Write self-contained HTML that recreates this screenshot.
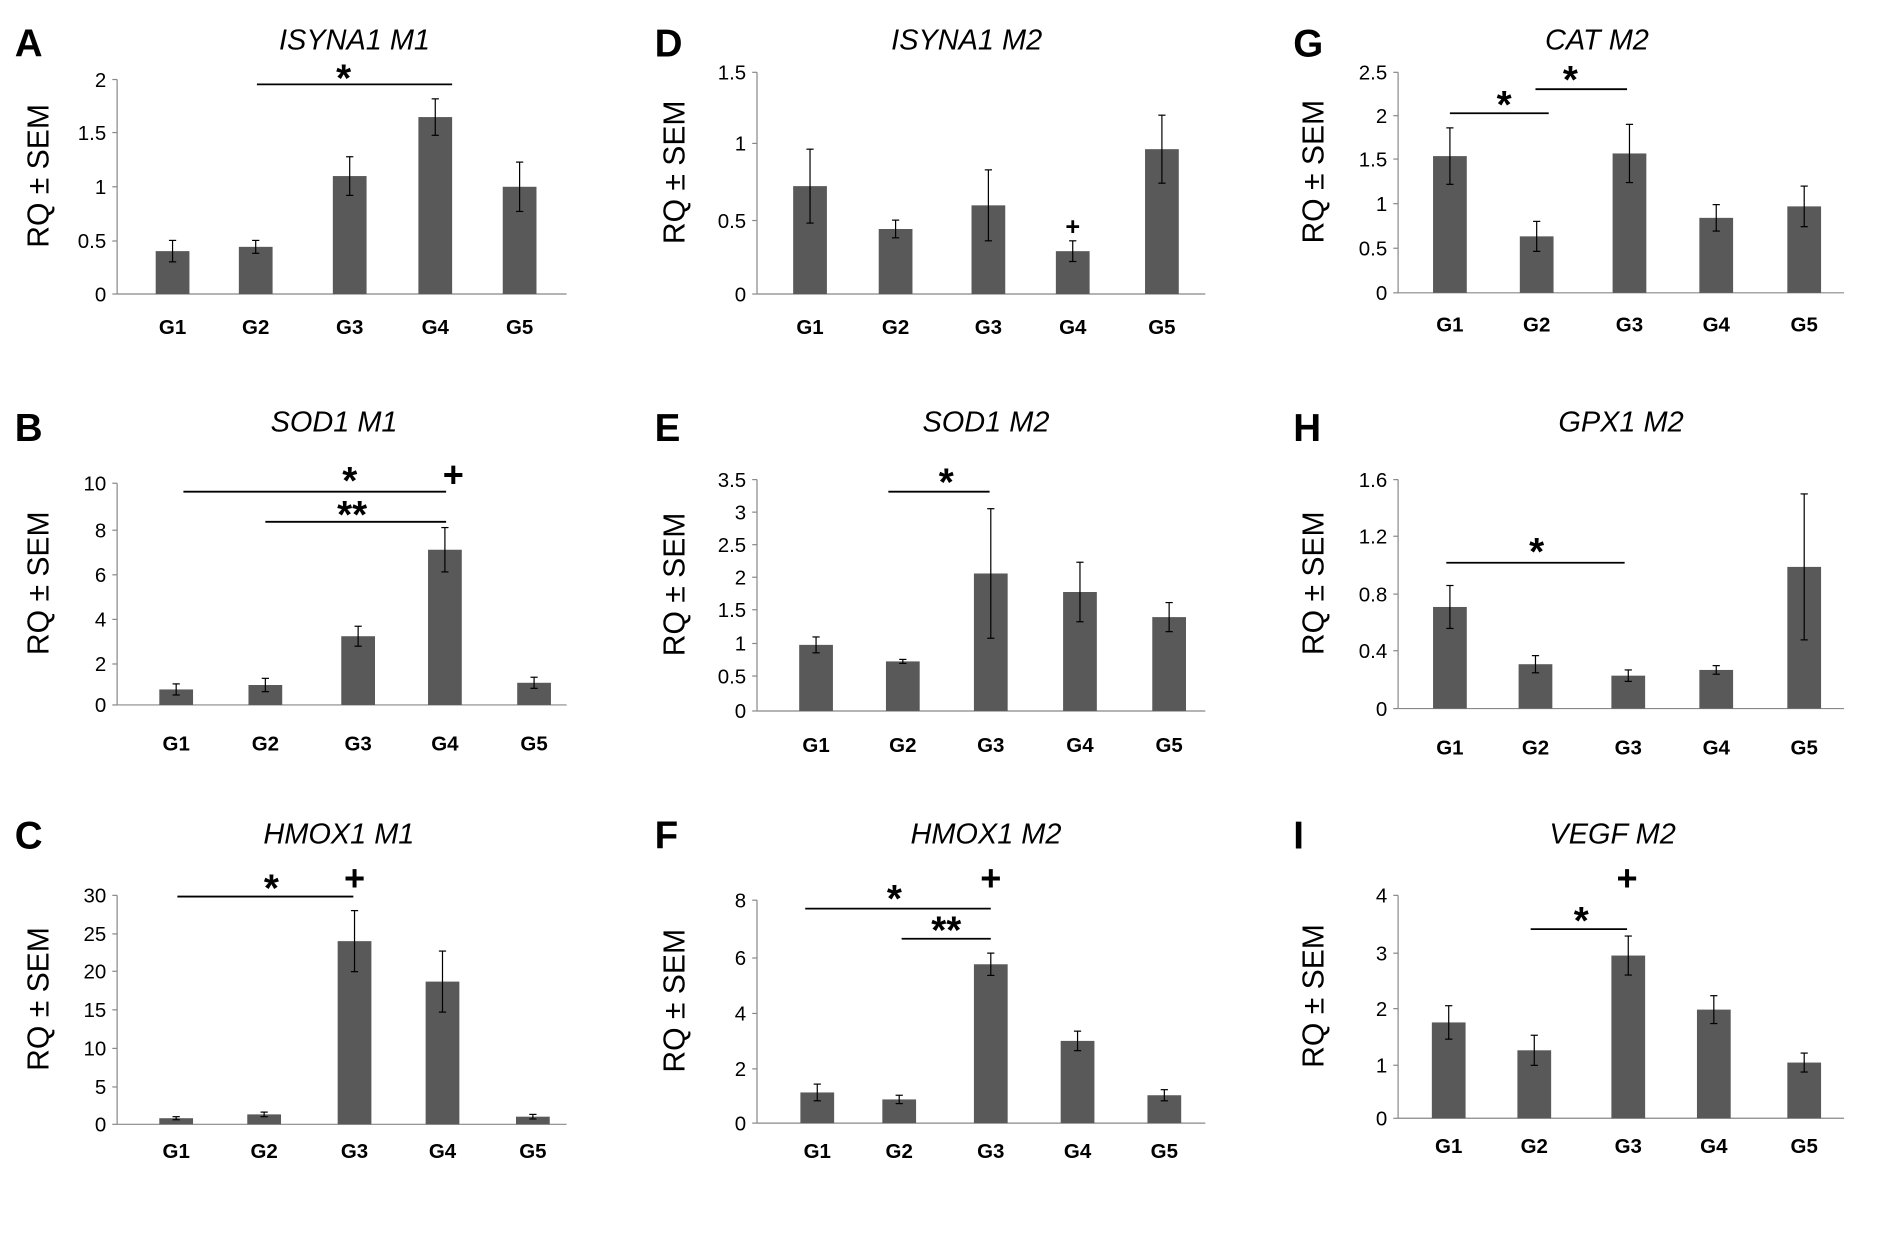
<!DOCTYPE html>
<html><head><meta charset="utf-8"><style>
html,body{margin:0;padding:0;background:#fff;}
svg{display:block;}
text{font-family:"Liberation Sans",Arial,sans-serif;fill:#000;}
</style></head><body>
<svg id="s" width="1890" height="1240" viewBox="0 0 1568 1029" xmlns="http://www.w3.org/2000/svg">
<rect x="0" y="0" width="1568" height="1029" fill="#fff"/>
</svg>
<script>
const S=document.getElementById('s');const NS='http://www.w3.org/2000/svg';
function el(t,a,txt){const e=document.createElementNS(NS,t);for(const k in a)e.setAttribute(k,a[k]);if(txt!==undefined)e.textContent=txt;S.appendChild(e);return e;}
const P=[
{ax:97,x1:470,zero:244,ticks:[[0,244],[0.5,200],[1,155],[1.5,110],[2,66]],lab:['0','0.5','1','1.5','2'],bx:[143,212,290,361,431],v:[.4,.44,1.1,1.65,1.0],e:[.1,.06,.18,.17,.23],ly:271,t:'ISYNA1 M1',tx:294,ty:32,L:'A',Lx:12,Ly:35,yl:40,
 sig:[[213,375,70,'*',285,62]],plus:[]},
{ax:97,x1:470,zero:585,ticks:[[0,585],[2,551],[4,514],[6,477],[8,440],[10,401]],lab:['0','2','4','6','8','10'],bx:[146,220,297,369,443],v:[.7,.9,3.1,7.0,1.0],e:[.25,.3,.45,1.0,.25],ly:617,t:'SOD1 M1',tx:277,ty:349,L:'B',Lx:12,Ly:354,yl:40,
 sig:[[152,370,408,'*',290,396],[220,370,433,'**',292,424]],plus:[[376,394]]},
{ax:97,x1:470,zero:933,ticks:[[0,933],[5,902],[10,870],[15,838],[20,806],[25,775],[30,743]],lab:['0','5','10','15','20','25','30'],bx:[146,219,294,367,442],v:[.8,1.3,24,18.7,1.0],e:[.2,.3,4,4,.3],ly:955,t:'HMOX1 M1',tx:281,ty:691,L:'C',Lx:12,Ly:692,yl:40,
 sig:[[147,293,744,'*',225,734]],plus:[[294,729]]},
{ax:628,x1:1000,zero:244,ticks:[[0,244],[.5,183],[1,119],[1.5,60]],lab:['0','0.5','1','1.5'],bx:[672,743,820,890,964],v:[.73,.44,.6,.29,.98],e:[.25,.06,.24,.07,.23],ly:271,t:'ISYNA1 M2',tx:802,ty:32,L:'D',Lx:543,Ly:35,yl:568,
 sig:[],plus:[[890,188,0.7]]},
{ax:628,x1:1000,zero:590,ticks:[[0,590],[.5,561],[1,534],[1.5,506],[2,479],[2.5,452],[3,425],[3.5,398]],lab:['0','0.5','1','1.5','2','2.5','3','3.5'],bx:[677,749,822,896,970],v:[1.0,.75,2.08,1.8,1.42],e:[.12,.03,.98,.45,.22],ly:618,t:'SOD1 M2',tx:818,ty:349,L:'E',Lx:543,Ly:354,yl:568,
 sig:[[737,821,408,'*',785,397]],plus:[]},
{ax:628,x1:1000,zero:932,ticks:[[0,932],[2,887],[4,841],[6,795],[8,747]],lab:['0','2','4','6','8'],bx:[678,746,822,894,966],v:[1.1,.85,5.7,2.95,1.0],e:[.3,.15,.4,.35,.2],ly:955,t:'HMOX1 M2',tx:818,ty:691,L:'F',Lx:543,Ly:692,yl:568,
 sig:[[668,822,754,'*',742,743],[748,822,779,'**',785,769]],plus:[[822,729]]},
{ax:1160,x1:1530,zero:243,ticks:[[0,243],[.5,206],[1,169],[1.5,132],[2,96],[2.5,60]],lab:['0','0.5','1','1.5','2','2.5'],bx:[1203,1275,1352,1424,1497],v:[1.55,.64,1.58,.85,.98],e:[.32,.17,.33,.15,.23],ly:269,t:'CAT M2',tx:1325,ty:32,L:'G',Lx:1073,Ly:35,yl:1098,
 sig:[[1203,1285,94,'*',1248,84],[1274,1350,74,'*',1303,63]],plus:[]},
{ax:1160,x1:1530,zero:588,ticks:[[0,588],[.4,540],[.8,493],[1.2,445],[1.6,398]],lab:['0','0.4','0.8','1.2','1.6'],bx:[1203,1274,1351,1424,1497],v:[.71,.31,.23,.27,.99],e:[.15,.06,.04,.03,.51],ly:620,t:'GPX1 M2',tx:1345,ty:349,L:'H',Lx:1073,Ly:354,yl:1098,
 sig:[[1200,1348,467,'*',1275,455]],plus:[]},
{ax:1160,x1:1530,zero:928,ticks:[[0,928],[1,884],[2,837],[3,791],[4,743]],lab:['0','1','2','3','4'],bx:[1202,1273,1351,1422,1497],v:[1.72,1.22,2.92,1.95,1.0],e:[.3,.27,.35,.25,.17],ly:951,t:'VEGF M2',tx:1338,ty:691,L:'I',Lx:1073,Ly:692,yl:1098,
 sig:[[1270,1350,771,'*',1312,761]],plus:[[1350,729]]}
];
P.forEach(p=>{
 const top=p.ticks[p.ticks.length-1];const scale=(p.zero-top[1])/top[0];
 el('line',{x1:p.ax,y1:top[1],x2:p.ax,y2:p.zero,stroke:'#888','stroke-width':1});
 el('line',{x1:p.ax,y1:p.zero,x2:p.x1,y2:p.zero,stroke:'#888','stroke-width':1});
 p.ticks.forEach((t,i)=>{el('line',{x1:p.ax-4,y1:t[1],x2:p.ax,y2:t[1],stroke:'#888'});
  el('text',{x:p.ax-9,y:t[1]+6,'text-anchor':'end','font-size':17},p.lab[i]);});
 p.bx.forEach((x,i)=>{const h=p.v[i]*scale;el('rect',{x:x-14,y:p.zero-h,width:28,height:h,fill:'#595959'});
  const e=p.e[i]*scale,yc=p.zero-h;
  el('line',{x1:x,y1:yc-e,x2:x,y2:Math.min(yc+e,p.zero),stroke:'#000','stroke-width':1});
  el('line',{x1:x-3,y1:yc-e,x2:x+3,y2:yc-e,stroke:'#000'});
  el('line',{x1:x-3,y1:Math.min(yc+e,p.zero),x2:x+3,y2:Math.min(yc+e,p.zero),stroke:'#000'});
  el('text',{x:x,y:p.ly+6,'text-anchor':'middle','font-size':17,'font-weight':'bold'},'G'+(i+1));});
 el('text',{x:p.tx,y:p.ty+9,'text-anchor':'middle','font-size':24,'font-style':'italic'},p.t);
 el('text',{x:p.Lx,y:p.Ly+12,'font-size':32,'font-weight':'bold'},p.L);
 const cy=(p.zero+top[1])/2;
 el('text',{x:p.yl+9,y:cy,'text-anchor':'middle','font-size':25,transform:`rotate(-90 ${p.yl} ${cy})`},'RQ ± SEM');
 p.sig.forEach(s=>{el('line',{x1:s[0],y1:s[2],x2:s[1],y2:s[2],stroke:'#000','stroke-width':1.5});
  el('text',{x:s[4],y:s[5]+14,'text-anchor':'middle','font-size':32,'font-weight':'bold'},s[3]);});
 p.plus.forEach(q=>{const k=q[2]||1;el('text',{x:q[0],y:q[1]+10*k,'text-anchor':'middle','font-size':30*k,'font-weight':'bold'},'+');});
});
</script>
</body></html>
